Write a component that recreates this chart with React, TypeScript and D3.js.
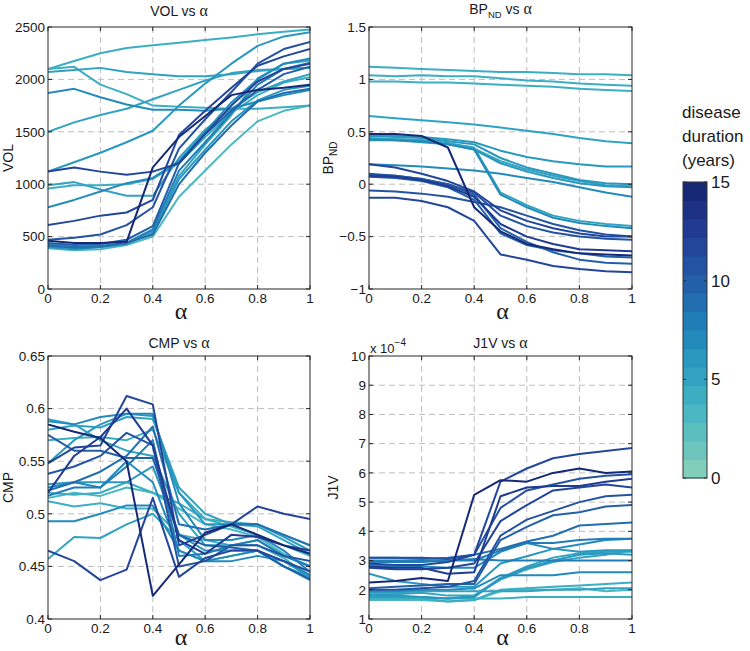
import React from 'react';
import * as d3 from 'd3';

const alphaValues = [0, 0.1, 0.2, 0.3, 0.4, 0.5, 0.6, 0.7, 0.8, 0.9, 1];
const xTicks = [0, 0.2, 0.4, 0.6, 0.8, 1];
const xTickLabels = ['0', '0.2', '0.4', '0.6', '0.8', '1'];

// ---- VOL vs alpha ----
const volDurations = [4, 4, 5, 7, 5, 6, 12, 5, 4, 7, 12, 15, 11, 10, 8, 6, 3, 9, 5];
const volSeries = [
  [2100, 2175, 2250, 2300, 2325, 2350, 2375, 2400, 2430, 2455, 2475],
  [2100, 2120, 1950, 1860, 1750, 1740, 1730, 1720, 1720, 1735, 1750],
  [2070, 2090, 2110, 2070, 2050, 2030, 2030, 2050, 2080, 2100, 2110],
  [1870, 1910, 1830, 1760, 1710, 1710, 1700, 1720, 1790, 1850, 1900],
  [1500, 1590, 1660, 1720, 1810, 1900, 1990, 2060, 2090, 2100, 2110],
  [1120, 1210, 1300, 1400, 1510, 1750, 1960, 2150, 2320, 2410, 2450],
  [1120, 1160, 1120, 1090, 1120, 1200, 1480, 1750, 1980, 2100, 2150],
  [990, 1020, 950, 890, 890, 1250, 1520, 1720, 1880, 1980, 2050],
  [960, 990, 990, 1000, 1050, 1200, 1450, 1680, 1850, 1970, 2020],
  [780, 850, 930, 1010, 1060, 1220, 1500, 1780, 2000, 2150, 2200],
  [610, 650, 700, 730, 850, 1470, 1700, 1920, 2130, 2220, 2290],
  [460, 440, 440, 450, 1160, 1450, 1650, 1850, 1900, 1920, 1950],
  [470, 490, 520, 610, 780, 1340, 1620, 1880, 2150, 2290, 2357],
  [440, 420, 430, 470, 600, 1200, 1480, 1700, 1900, 2050, 2120],
  [420, 390, 400, 440, 570, 1130, 1400, 1680, 1950, 2100, 2160],
  [400, 380, 400, 430, 540, 1050, 1330, 1600, 1800, 1900, 1940],
  [390, 370, 380, 420, 500, 880, 1130, 1380, 1600, 1700, 1750],
  [410, 400, 410, 440, 520, 1000, 1300, 1560, 1790, 1870, 1910],
  [430, 400, 410, 440, 560, 1080, 1380, 1660, 2010, 2150, 2180],
];
const volTicks = [0, 500, 1000, 1500, 2000, 2500];

// ---- BP_ND vs alpha ----
const bpDurations = [4, 4, 4, 5, 15, 6, 5, 6, 5, 7, 6, 7, 12, 11, 13, 10, 11, 12, 10];
const bpSeries = [
  [1.12, 1.11, 1.10, 1.09, 1.08, 1.07, 1.07, 1.06, 1.05, 1.05, 1.04],
  [1.04, 1.03, 1.04, 1.03, 1.03, 1.01, 0.99, 0.98, 0.96, 0.95, 0.94],
  [0.98, 0.98, 0.97, 0.97, 0.96, 0.95, 0.94, 0.93, 0.91, 0.90, 0.89],
  [0.65, 0.63, 0.61, 0.59, 0.57, 0.54, 0.51, 0.48, 0.44, 0.41, 0.39],
  [0.48, 0.48, 0.46, 0.35, -0.22, -0.45, -0.57, -0.62, -0.66, -0.67, -0.68],
  [0.46, 0.45, 0.44, 0.41, 0.38, 0.25, 0.16, 0.10, 0.04, 0.01, 0.00],
  [0.43, 0.43, 0.42, 0.39, 0.34, 0.22, 0.14, 0.08, 0.03, -0.01, -0.02],
  [0.42, 0.42, 0.40, 0.38, 0.33, 0.20, 0.12, 0.06, 0.01, -0.02, -0.03],
  [0.44, 0.43, 0.42, 0.39, 0.35, -0.08, -0.20, -0.30, -0.35, -0.38, -0.40],
  [0.43, 0.42, 0.41, 0.38, 0.33, -0.10, -0.22, -0.32, -0.37, -0.40, -0.42],
  [0.47, 0.46, 0.45, 0.43, 0.40, 0.32, 0.26, 0.22, 0.19, 0.17, 0.17],
  [0.19, 0.18, 0.17, 0.15, 0.13, 0.10, 0.06, 0.02, -0.03, -0.08, -0.12],
  [0.19, 0.16, 0.10, 0.03, -0.07, -0.25, -0.35, -0.42, -0.47, -0.50, -0.50],
  [0.10, 0.08, 0.05, 0.0, -0.08, -0.30, -0.40, -0.46, -0.50, -0.52, -0.53],
  [0.08, 0.07, 0.04, -0.02, -0.12, -0.38, -0.50, -0.57, -0.62, -0.63, -0.64],
  [0.07, 0.06, 0.03, -0.03, -0.15, -0.47, -0.58, -0.63, -0.66, -0.69, -0.70],
  [-0.06, -0.07, -0.09, -0.12, -0.17, -0.22, -0.30, -0.38, -0.44, -0.48, -0.50],
  [-0.13, -0.13, -0.16, -0.22, -0.35, -0.67, -0.72, -0.78, -0.81, -0.83, -0.84],
  [0.09, 0.08, 0.05, 0.0, -0.10, -0.42, -0.55, -0.65, -0.72, -0.75, -0.76],
];
const bpTicks = [-1, -0.5, 0, 0.5, 1, 1.5];

// ---- CMP vs alpha ----
const cmpDurations = [12, 15, 12, 13, 11, 10, 9, 7, 6, 5, 4, 5, 6, 7, 4, 3, 4, 7, 5, 8];
const cmpSeries = [
  [0.465, 0.455, 0.437, 0.447, 0.515, 0.44, 0.458, 0.465, 0.465, 0.455, 0.445],
  [0.585, 0.578, 0.572, 0.55, 0.422, 0.452, 0.482, 0.49, 0.48, 0.47, 0.462],
  [0.548, 0.563, 0.565, 0.612, 0.604, 0.47, 0.48, 0.49, 0.507, 0.5, 0.495],
  [0.52, 0.555, 0.573, 0.6, 0.565, 0.475, 0.462, 0.48, 0.478, 0.47, 0.465],
  [0.538, 0.545, 0.555, 0.577, 0.565, 0.45, 0.455, 0.47, 0.47, 0.46, 0.455],
  [0.575, 0.56, 0.56, 0.553, 0.553, 0.48, 0.47, 0.468, 0.465, 0.45, 0.438],
  [0.522, 0.53, 0.54, 0.555, 0.583, 0.49, 0.485, 0.49, 0.49, 0.48, 0.47],
  [0.588, 0.585, 0.592, 0.595, 0.595, 0.51, 0.475, 0.475, 0.48, 0.465, 0.445],
  [0.548, 0.57, 0.585, 0.595, 0.593, 0.52, 0.49, 0.49, 0.49, 0.478, 0.465],
  [0.58, 0.584, 0.582, 0.592, 0.59, 0.525, 0.5, 0.49, 0.488, 0.475, 0.462],
  [0.57, 0.572, 0.573, 0.57, 0.58, 0.52, 0.495, 0.492, 0.49, 0.48, 0.47],
  [0.59, 0.585, 0.57, 0.56, 0.555, 0.5, 0.47, 0.47, 0.475, 0.46, 0.45],
  [0.528, 0.53, 0.53, 0.53, 0.545, 0.48, 0.465, 0.465, 0.465, 0.455, 0.44],
  [0.525, 0.53, 0.525, 0.55, 0.53, 0.465, 0.455, 0.46, 0.465, 0.45, 0.437],
  [0.52, 0.518, 0.52, 0.53, 0.52, 0.51, 0.495, 0.488, 0.48, 0.47, 0.46],
  [0.515, 0.52, 0.517, 0.525, 0.52, 0.505, 0.49, 0.485, 0.478, 0.462, 0.45],
  [0.512, 0.507, 0.51, 0.505, 0.505, 0.48, 0.475, 0.47, 0.47, 0.458, 0.44],
  [0.493, 0.493, 0.5, 0.508, 0.508, 0.465, 0.455, 0.455, 0.46, 0.455, 0.442],
  [0.457, 0.478, 0.477, 0.49, 0.5, 0.475, 0.455, 0.46, 0.465, 0.45, 0.44],
  [0.517, 0.525, 0.525, 0.545, 0.57, 0.46, 0.462, 0.47, 0.475, 0.46, 0.45],
];
const cmpTicks = [0.4, 0.45, 0.5, 0.55, 0.6, 0.65];

// ---- J1V vs alpha (x 1e-4) ----
const j1vDurations = [15, 12, 13, 11, 12, 11, 10, 9, 8, 7, 6, 5, 6, 7, 4, 5, 3, 4, 5, 8];
const j1vSeries = [
  [2.25, 2.3, 2.4, 2.3, 5.25, 5.75, 5.7, 6.0, 6.15, 6.0, 6.05],
  [2.9, 2.85, 2.85, 2.95, 3.2, 5.7, 6.15, 6.5, 6.65, 6.75, 6.85],
  [2.8, 2.75, 2.75, 2.55, 2.6, 5.2, 5.5, 5.55, 5.55, 5.7, 5.8],
  [3.1, 3.1, 3.1, 3.05, 3.2, 4.8, 5.4, 5.6, 5.8, 5.9, 5.95],
  [2.75, 2.7, 2.7, 2.75, 2.9, 4.35, 4.9, 5.4, 5.5, 5.6, 5.5],
  [2.0, 2.0, 2.05, 2.1, 2.3, 3.85, 4.4, 4.7, 5.0, 5.2, 5.25],
  [2.05, 2.1, 2.15, 2.2, 2.2, 3.7, 4.15, 4.55, 4.65, 4.85, 4.9],
  [3.1, 3.1, 3.05, 3.1, 3.2, 3.4, 3.65, 3.85, 4.2, 4.25, 4.3],
  [2.95, 2.95, 2.95, 3.0, 3.0, 3.35, 3.6, 3.6, 3.7, 3.75, 3.75],
  [2.85, 2.8, 2.8, 2.75, 2.75, 3.3, 3.6, 3.4, 3.55, 3.7, 3.75],
  [2.55, 2.3, 2.2, 2.1, 2.1, 2.9, 3.15, 3.4, 3.3, 3.35, 3.35],
  [1.85, 1.85, 1.9, 1.8, 1.8, 2.4, 2.8, 3.1, 3.25, 3.3, 3.3],
  [1.8, 1.8, 1.75, 1.7, 1.75, 2.4, 2.75, 3.0, 3.2, 3.25, 3.2],
  [1.95, 1.95, 2.0, 2.0, 2.05, 2.5, 2.5, 2.5, 2.6, 2.6, 2.6],
  [1.7, 1.7, 1.7, 1.6, 1.65, 2.0, 2.05, 2.1, 2.15, 2.2, 2.25],
  [1.9, 1.9, 1.95, 1.95, 1.95, 1.95, 1.95, 2.0, 2.0, 2.05, 2.05],
  [1.65, 1.65, 1.65, 1.6, 1.65, 1.95, 2.0, 2.0, 2.05, 1.95, 2.0],
  [1.75, 1.75, 1.7, 1.7, 1.7, 1.7, 1.75, 1.75, 1.75, 1.75, 1.75],
  [1.75, 1.75, 1.75, 1.7, 1.8, 2.35, 2.7, 2.95, 3.1, 3.2, 3.35],
  [3.0, 3.0, 3.0, 3.0, 3.05, 3.0, 3.0, 3.0, 3.0, 3.0, 3.0],
];
const j1vTicks = [1, 2, 3, 4, 5, 6, 7, 8, 9, 10];

const colorbarTicks = [0, 5, 10, 15];
const colorbarLevels = d3.range(16);

const SANS = 'Liberation Sans, Arial, Helvetica, sans-serif';
const SERIF = 'Liberation Serif, Times New Roman, serif';

function colorFor(d: number) {
  const i = Math.max(0, Math.min(15, Math.round(d)));
  return d3.interpolateYlGnBu(0.375 + (i / 15) * 0.56);
}

function fmtTick(v: number) {
  const s = String(+v.toFixed(4));
  return s.replace('-', '\u2212');
}

type PanelProps = {
  id: string;
  x0: number;
  y0: number;
  w: number;
  h: number;
  domain: [number, number];
  yTicks: number[];
  series: number[][];
  durations: number[];
  titleMain: string;
  titleSub?: string;
  titleY: number;
  yLabelMain: string;
  yLabelSub?: string;
  yLabelX: number;
  xLabelDy: number;
};

function Panel(p: PanelProps) {
  const x = d3.scaleLinear().domain([0, 1]).range([p.x0, p.x0 + p.w]);
  const y = d3.scaleLinear().domain(p.domain).range([p.y0 + p.h, p.y0]);
  const line = d3
    .line<number>()
    .x((_, i) => x(alphaValues[i]))
    .y((v) => y(v));
  const order = d3.range(p.series.length).sort((a, b) => p.durations[a] - p.durations[b]);
  const tl = 4;
  const cx = p.x0 + p.w / 2;
  const cy = p.y0 + p.h / 2;
  return (
    <g>
      <defs>
        <clipPath id={`clip-${p.id}`}>
          <rect x={p.x0} y={p.y0} width={p.w} height={p.h} />
        </clipPath>
      </defs>
      {xTicks
        .filter((t) => t > 0 && t < 1)
        .map((t) => (
          <line key={`gx${t}`} x1={x(t)} x2={x(t)} y1={p.y0} y2={p.y0 + p.h} stroke="#bdbdbd" strokeWidth={1} strokeDasharray="6,4" />
        ))}
      {p.yTicks
        .filter((t, i) => i > 0 && i < p.yTicks.length - 1)
        .map((t) => (
          <line key={`gy${t}`} x1={p.x0} x2={p.x0 + p.w} y1={y(t)} y2={y(t)} stroke="#bdbdbd" strokeWidth={1} strokeDasharray="6,4" />
        ))}
      <g clipPath={`url(#clip-${p.id})`}>
        {order.map((i) => (
          <path key={i} d={line(p.series[i]) || ''} fill="none" stroke={colorFor(p.durations[i])} strokeWidth={2} strokeLinejoin="round" />
        ))}
      </g>
      <rect x={p.x0} y={p.y0} width={p.w} height={p.h} fill="none" stroke="#262626" strokeWidth={1} />
      {xTicks.map((t) => (
        <g key={`tx${t}`}>
          <line x1={x(t)} x2={x(t)} y1={p.y0 + p.h} y2={p.y0 + p.h - tl} stroke="#262626" />
          <line x1={x(t)} x2={x(t)} y1={p.y0} y2={p.y0 + tl} stroke="#262626" />
        </g>
      ))}
      {p.yTicks.map((t) => (
        <g key={`ty${t}`}>
          <line x1={p.x0} x2={p.x0 + tl} y1={y(t)} y2={y(t)} stroke="#262626" />
          <line x1={p.x0 + p.w} x2={p.x0 + p.w - tl} y1={y(t)} y2={y(t)} stroke="#262626" />
        </g>
      ))}
      {xTicks.map((t, i) => (
        <text key={`lx${t}`} x={x(t)} y={p.y0 + p.h + 14} textAnchor="middle" fontSize={13.5} fontFamily={SANS} fill="#1a1a1a">
          {xTickLabels[i]}
        </text>
      ))}
      {p.yTicks.map((t) => (
        <text key={`ly${t}`} x={p.x0 - 3} y={y(t)} dy="0.35em" textAnchor="end" fontSize={13.5} fontFamily={SANS} fill="#1a1a1a">
          {fmtTick(t)}
        </text>
      ))}
      <text x={cx + 2} y={p.y0 + p.h + p.xLabelDy} textAnchor="middle" fontSize={24} fontFamily={SERIF} fill="#1a1a1a">
        α
      </text>
      <text x={cx} y={p.titleY} textAnchor="middle" fontSize={14} fontFamily={SANS} fill="#1a1a1a">
        {p.titleMain}
        {p.titleSub ? (
          <tspan fontSize={9.5} dy={4}>
            {p.titleSub}
          </tspan>
        ) : null}
        <tspan dy={p.titleSub ? -4 : 0}>{' vs  '}</tspan>
        <tspan fontFamily={SERIF} fontSize={16}>α</tspan>
      </text>
      <text
        transform={`translate(${p.yLabelX},${cy}) rotate(-90)`}
        textAnchor="middle"
        fontSize={14}
        fontFamily={SANS}
        fill="#1a1a1a"
      >
        {p.yLabelMain}
        {p.yLabelSub ? (
          <tspan fontSize={10} dy={4}>
            {p.yLabelSub}
          </tspan>
        ) : null}
      </text>
    </g>
  );
}

function Colorbar() {
  const x0 = 683;
  const w = 24;
  const y = d3.scaleLinear().domain([0, 15]).range([478, 182]);
  const bandH = (y(0) - y(15)) / colorbarLevels.length;
  return (
    <g>
      {colorbarLevels.map((lv) => (
        <rect key={lv} x={x0} y={y(0) - (lv + 1) * bandH} width={w} height={bandH + 0.5} fill={colorFor(lv)} />
      ))}
      <rect x={x0} y={y(15)} width={w} height={y(0) - y(15)} fill="none" stroke="#333" strokeWidth={1} />
      {colorbarTicks.map((t) => (
        <g key={t}>
          <line x1={x0} x2={x0 + 3} y1={y(t)} y2={y(t)} stroke="#333" />
          <line x1={x0 + w} x2={x0 + w - 3} y1={y(t)} y2={y(t)} stroke="#333" />
          <text x={x0 + w + 4} y={y(t)} dy="0.35em" fontSize={17} fontFamily={SANS} fill="#1a1a1a">
            {t}
          </text>
        </g>
      ))}
      <text x={682} y={118} fontSize={17} fontFamily={SANS} fill="#1a1a1a">disease</text>
      <text x={682} y={142} fontSize={17} fontFamily={SANS} fill="#1a1a1a">duration</text>
      <text x={682} y={166} fontSize={17} fontFamily={SANS} fill="#1a1a1a">(years)</text>
    </g>
  );
}

export default function App() {
  return (
    <svg width={750} height={651} style={{ position: 'absolute', left: 0, top: 0, background: '#fff' }}>
      <rect x={0} y={0} width={750} height={651} fill="#fff" />
      <Panel id="vol" x0={48} y0={27} w={262} h={262} domain={[0, 2500]} yTicks={volTicks} series={volSeries} durations={volDurations}
        titleMain="VOL" titleY={16} yLabelMain="VOL" yLabelX={13} xLabelDy={30} />
      <Panel id="bp" x0={369} y0={27} w={263} h={262} domain={[-1, 1.5]} yTicks={bpTicks} series={bpSeries} durations={bpDurations}
        titleMain="BP" titleSub="ND" titleY={14} yLabelMain="BP" yLabelSub="ND" yLabelX={333} xLabelDy={30} />
      <Panel id="cmp" x0={48} y0={356} w={262} h={263} domain={[0.4, 0.65]} yTicks={cmpTicks} series={cmpSeries} durations={cmpDurations}
        titleMain="CMP" titleY={348} yLabelMain="CMP" yLabelX={13} xLabelDy={26} />
      <Panel id="j1v" x0={369} y0={356} w={263} h={263} domain={[1, 10]} yTicks={j1vTicks} series={j1vSeries} durations={j1vDurations}
        titleMain="J1V" titleY={348} yLabelMain="J1V" yLabelX={338} xLabelDy={26} />
      <text x={370} y={353} fontSize={13} fontFamily={SANS} fill="#1a1a1a">
        x 10<tspan fontSize={10} dy={-7}>−4</tspan>
      </text>
      <Colorbar />
    </svg>
  );
}
